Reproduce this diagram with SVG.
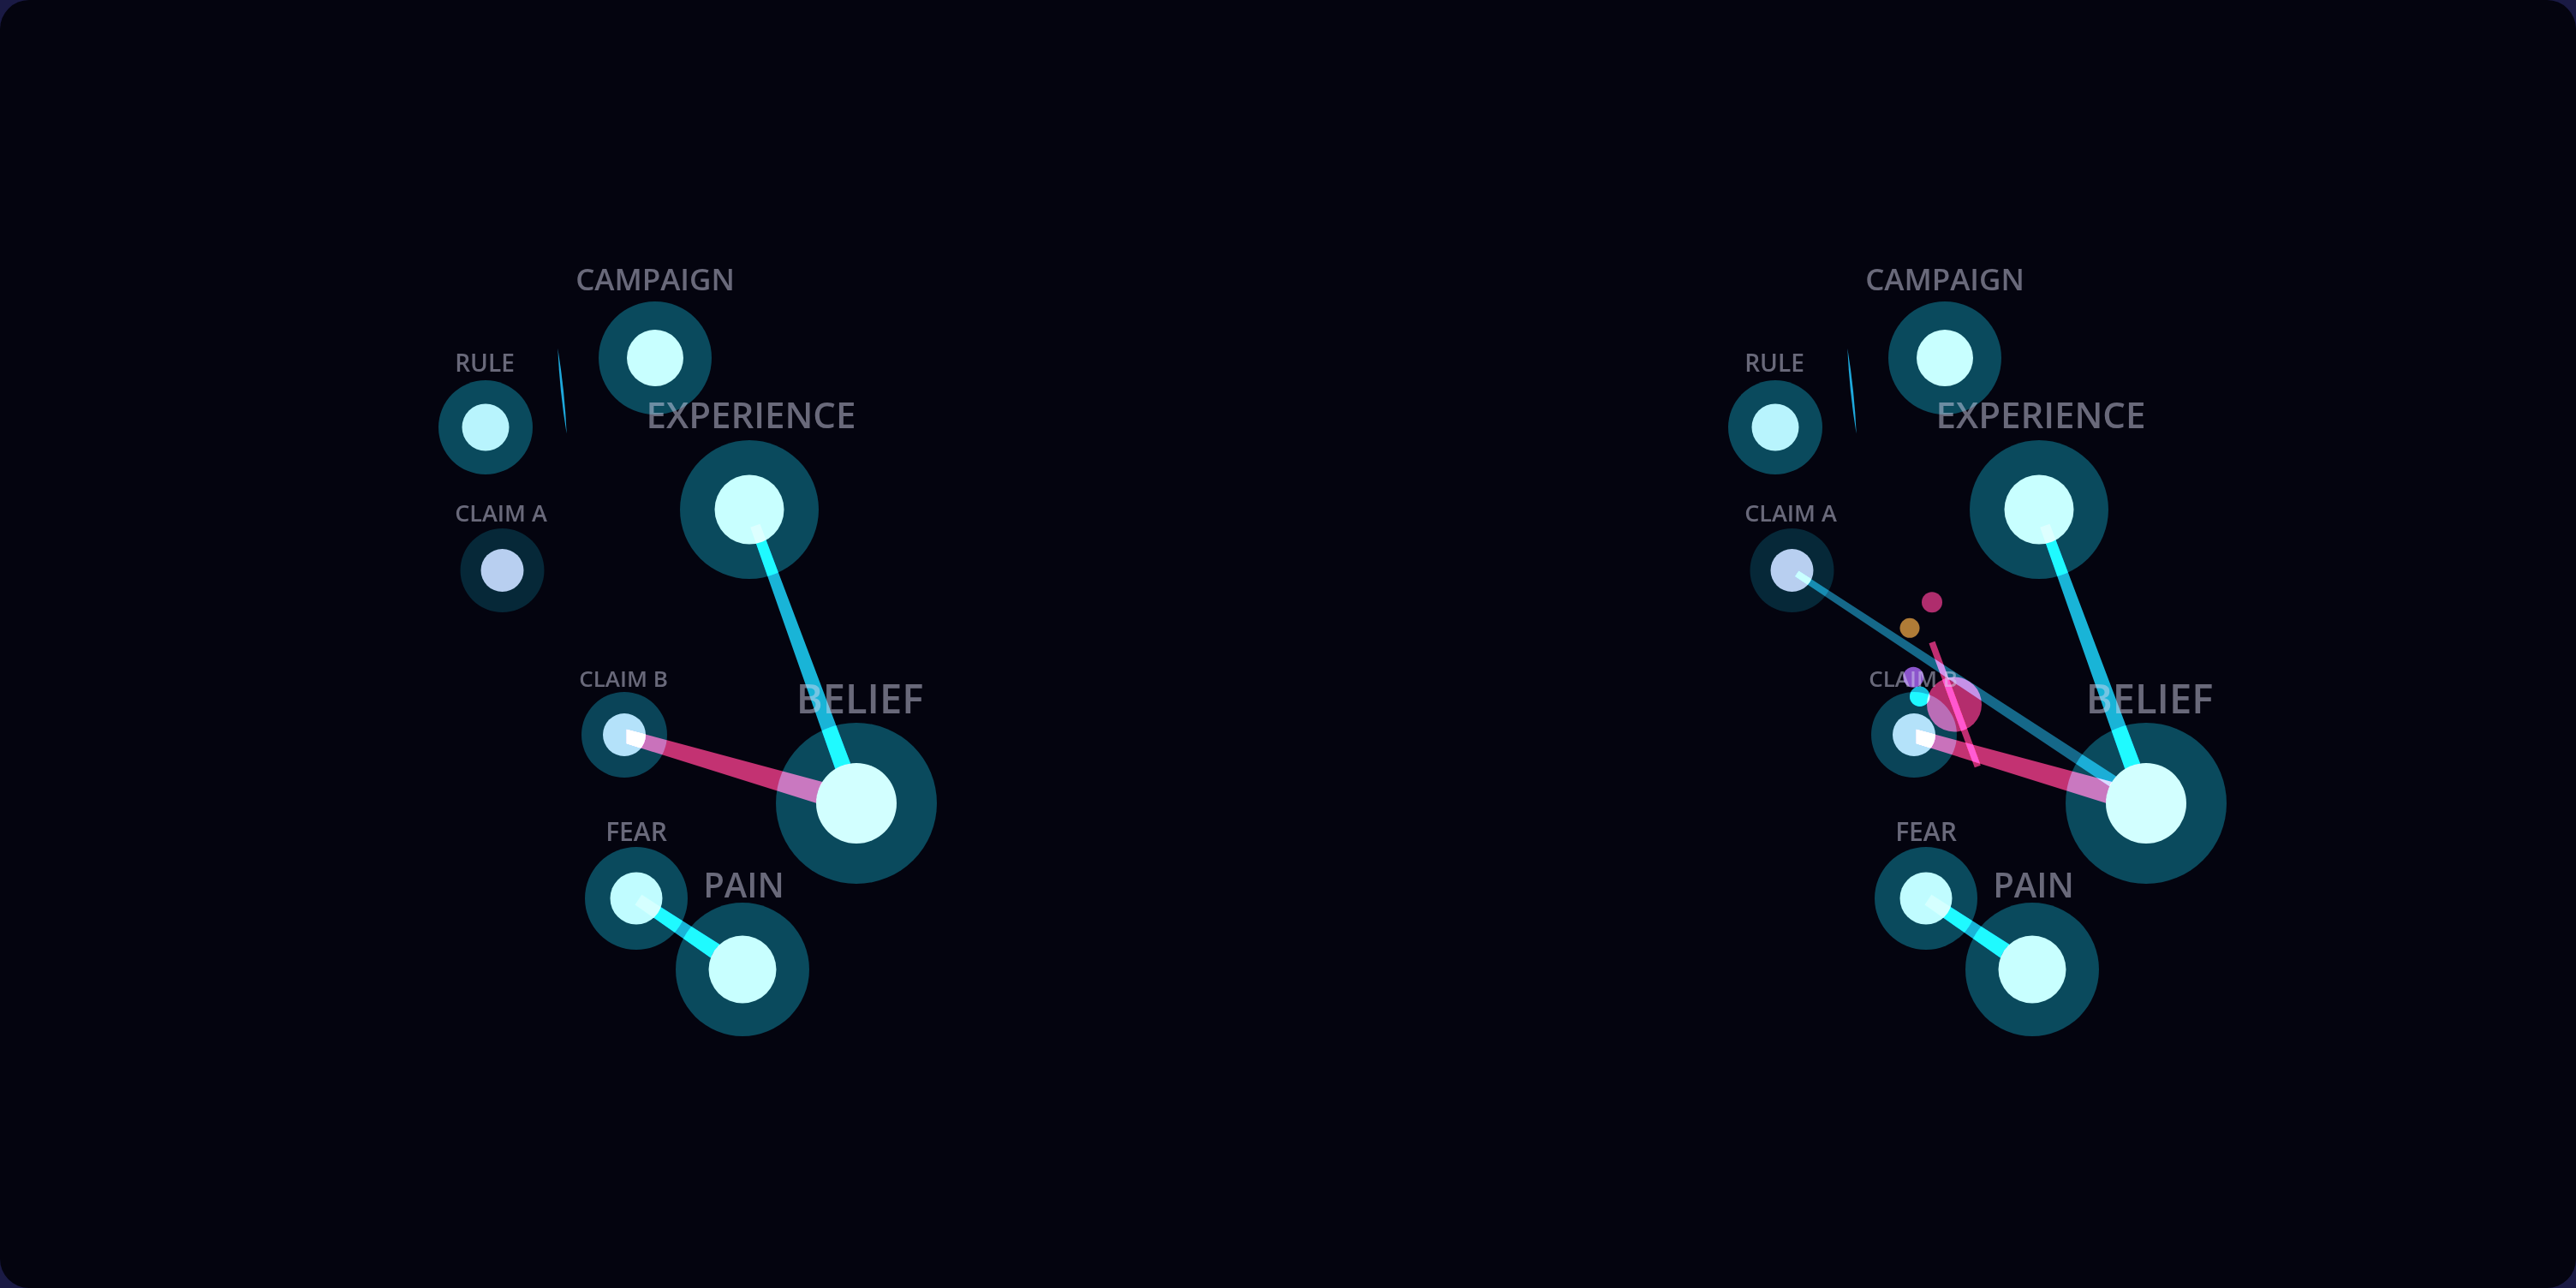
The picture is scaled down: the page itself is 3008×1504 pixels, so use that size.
<svg xmlns="http://www.w3.org/2000/svg" width="3008" height="1504" viewBox="0 0 3008 1504">
<style>
.halo{fill:#0a4a5d}
.halo-dim{fill:#062838}
.halo-b{fill:#0a4458}
.core{fill:#c8ffff}
.lbl{font-family:"Open Sans","Noto Sans","Liberation Sans",sans-serif;font-weight:600;fill:#d8d8f0;fill-opacity:.48;text-anchor:middle}
.add{mix-blend-mode:screen;mix-blend-mode:plus-lighter}
.cyan{fill:#15b0c8}
.pink{fill:#bf2e63}
.teal{fill:#11647a}
.sliver{fill:#1aa4cc}
</style>
<rect width="3008" height="1504" fill="#1a1a44"/>
<rect width="3008" height="1504" rx="34" fill="#04040f"/>

<g id="panel-left">
  <g id="l-nodes">
    <g id="l-campaign"><circle class="halo" cx="765" cy="418" r="66"/><circle class="core" cx="765" cy="418" r="33"/></g>
    <g id="l-rule"><circle class="halo" cx="567" cy="499" r="55"/><circle class="core" cx="567" cy="499" r="27.5" style="fill:#b8f4fd"/></g>
    <g id="l-claima"><circle class="halo-dim" cx="586.5" cy="666" r="49"/><circle class="core" cx="586.5" cy="666" r="25" style="fill:#b8cff0"/></g>
    <g id="l-experience"><circle class="halo" cx="875" cy="595" r="81"/><circle class="core" cx="875" cy="595" r="40.5"/></g>
    <g id="l-claimb"><circle class="halo-b" cx="729" cy="858" r="50"/><circle class="core" cx="729" cy="858" r="25" style="fill:#b4e2fa"/></g>
    <g id="l-belief"><circle class="halo" cx="1000" cy="938" r="94"/><circle class="core" cx="1000" cy="938" r="47" style="fill:#d2ffff"/></g>
    <g id="l-fear"><circle class="halo" cx="743" cy="1049" r="60"/><circle class="core" cx="743" cy="1049" r="30.5" style="fill:#c0fcff"/></g>
    <g id="l-pain"><circle class="halo" cx="867" cy="1132" r="78"/><circle class="core" cx="867" cy="1132" r="39.5"/></g>
  </g>
  <g id="l-connectors">
    <path class="sliver add" d="M651.3,406.7 Q653.5,457 661.7,506.7 Q659.5,456.4 651.3,406.7 Z"/>
    <path class="cyan add" d="M876.2,615.84 L975.31,898 A47,47 0 0 1 993.17,891.5 L887.48,611.74 Z"/>
    <path class="pink add" d="M731.7,851.7 L960.25,912.91 A47,47 0 0 0 952.99,937.87 L731.7,868.3 Z"/>
    <path class="cyan add" d="M741.6,1056.49 L829.86,1118.57 A39.5,39.5 0 0 1 840.42,1102.77 L749.38,1044.85 Z"/>
  </g>
  <g id="l-labels">
    <text class="lbl" x="765" y="339" font-size="35">CAMPAIGN</text>
    <text class="lbl" x="566" y="434" font-size="28">RULE</text>
    <text class="lbl" x="585" y="609" font-size="27">CLAIM A</text>
    <text class="lbl" x="877" y="500" font-size="42">EXPERIENCE</text>
    <text class="lbl" x="728" y="801.7" font-size="26">CLAIM B</text>
    <text class="lbl" x="1004" y="833.3" font-size="47">BELIEF</text>
    <text class="lbl" x="743" y="982.3" font-size="30">FEAR</text>
    <text class="lbl" x="868.5" y="1048.3" font-size="40">PAIN</text>
  </g>
</g>

<g id="panel-right" transform="translate(1506,0)">
  <g id="r-nodes">
    <g id="r-campaign"><circle class="halo" cx="765" cy="418" r="66"/><circle class="core" cx="765" cy="418" r="33"/></g>
    <g id="r-rule"><circle class="halo" cx="567" cy="499" r="55"/><circle class="core" cx="567" cy="499" r="27.5" style="fill:#b8f4fd"/></g>
    <g id="r-claima"><circle class="halo-dim" cx="586.5" cy="666" r="49"/><circle class="core" cx="586.5" cy="666" r="25" style="fill:#b8cff0"/></g>
    <g id="r-experience"><circle class="halo" cx="875" cy="595" r="81"/><circle class="core" cx="875" cy="595" r="40.5"/></g>
    <g id="r-claimb"><circle class="halo-b" cx="729" cy="858" r="50"/><circle class="core" cx="729" cy="858" r="25" style="fill:#b4e2fa"/></g>
    <g id="r-belief"><circle class="halo" cx="1000" cy="938" r="94"/><circle class="core" cx="1000" cy="938" r="47" style="fill:#d2ffff"/></g>
    <g id="r-fear"><circle class="halo" cx="743" cy="1049" r="60"/><circle class="core" cx="743" cy="1049" r="30.5" style="fill:#c0fcff"/></g>
    <g id="r-pain"><circle class="halo" cx="867" cy="1132" r="78"/><circle class="core" cx="867" cy="1132" r="39.5"/></g>
  </g>
  <g id="r-connectors">
    <path class="sliver add" d="M651.3,406.7 Q653.5,457 661.7,506.7 Q659.5,456.4 651.3,406.7 Z"/>
    <path class="teal add" d="M590.26,673.02 L957.32,918.3 A47,47 0 0 1 965.02,906.6 L594.44,666.68 Z"/>
    <path class="cyan add" d="M876.2,615.84 L975.31,898 A47,47 0 0 1 993.17,891.5 L887.48,611.74 Z"/>
    <path class="pink add" d="M731.7,851.7 L960.25,912.91 A47,47 0 0 0 952.99,937.87 L731.7,868.3 Z"/>
    <path class="cyan add" d="M741.6,1056.49 L829.86,1118.57 A39.5,39.5 0 0 1 840.42,1102.77 L749.38,1044.85 Z"/>
  </g>
  <g id="r-particles">
    <circle class="add" cx="750" cy="703.3" r="12" fill="#ab295e"/>
    <circle class="add" cx="724" cy="733.3" r="11.5" fill="#ac7828"/>
    <circle class="add" cx="728.3" cy="790.7" r="12" fill="#8851bd"/>
    <circle class="add" cx="735.7" cy="813.3" r="11.7" fill="#14b4c8"/>
    <circle class="add" cx="776" cy="822.5" r="32" fill="#b0295e"/>
    <line class="add" x1="750" y1="750" x2="803.3" y2="895" stroke="#bc2a62" stroke-width="7.5"/>
  </g>
  <g id="r-labels">
    <text class="lbl" x="765" y="339" font-size="35">CAMPAIGN</text>
    <text class="lbl" x="566" y="434" font-size="28">RULE</text>
    <text class="lbl" x="585" y="609" font-size="27">CLAIM A</text>
    <text class="lbl" x="877" y="500" font-size="42">EXPERIENCE</text>
    <text class="lbl" x="728" y="801.7" font-size="26">CLAIM B</text>
    <text class="lbl" x="1004" y="833.3" font-size="47">BELIEF</text>
    <text class="lbl" x="743" y="982.3" font-size="30">FEAR</text>
    <text class="lbl" x="868.5" y="1048.3" font-size="40">PAIN</text>
  </g>
</g>
</svg>
